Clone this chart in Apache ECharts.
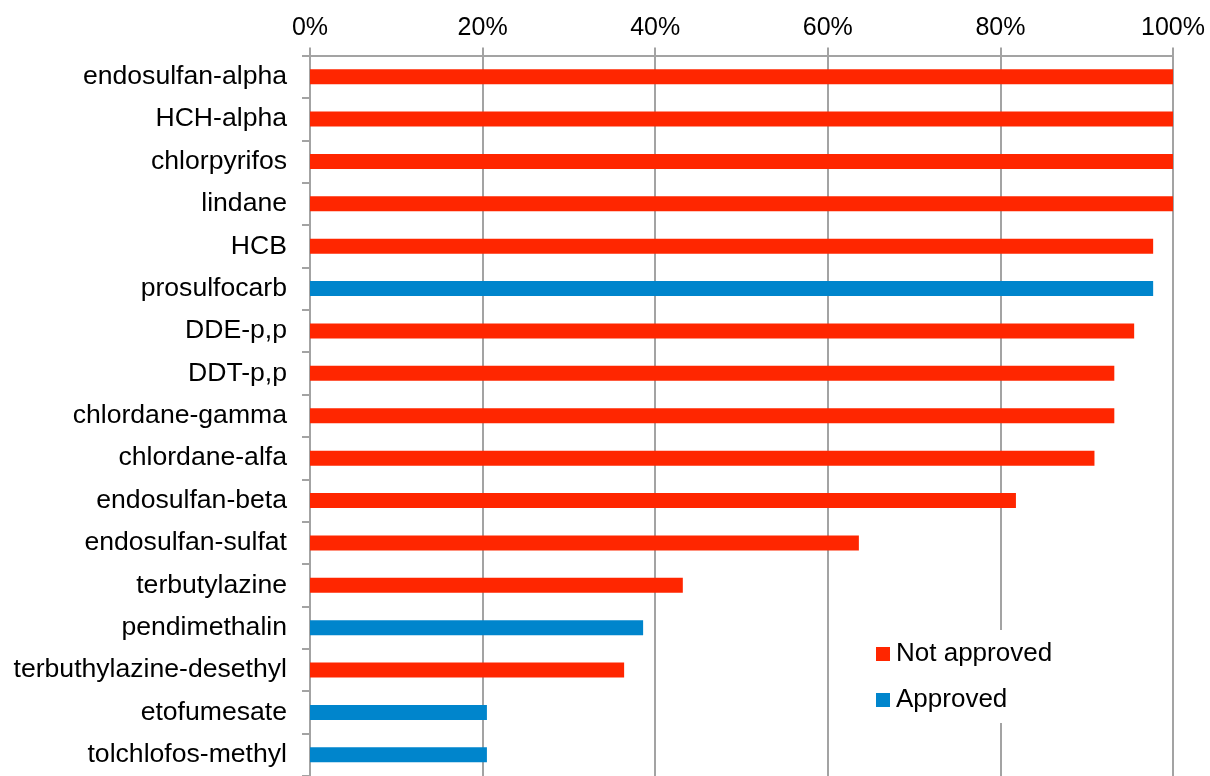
<!DOCTYPE html>
<html>
<head>
<meta charset="utf-8">
<title>Pesticide detections</title>
<script src="https://cdn.jsdelivr.net/npm/echarts@6/dist/echarts.min.js"></script>
<style>
  html, body { margin: 0; padding: 0; background: #ffffff; }
  #chart { width: 1210px; height: 776px; }
</style>
</head>
<body>
<div id="chart"></div>
<script>
// Compounds, top to bottom
const categories = [
  'endosulfan-alpha', 'HCH-alpha', 'chlorpyrifos', 'lindane', 'HCB',
  'prosulfocarb', 'DDE-p,p', 'DDT-p,p', 'chlordane-gamma', 'chlordane-alfa',
  'endosulfan-beta', 'endosulfan-sulfat', 'terbutylazine', 'pendimethalin',
  'terbuthylazine-desethyl', 'etofumesate', 'tolchlofos-methyl'
];

// Share of samples with the compound (%)
const shares = [
  100, 100, 100, 100, 97.7,
  97.7, 95.5, 93.2, 93.2, 90.9,
  81.8, 63.6, 43.2, 38.6,
  36.4, 20.5, 20.5
];

// Approval status of each compound
const approvedStatus = [
  false, false, false, false, false,
  true, false, false, false, false,
  false, false, false, true,
  false, true, true
];

const seriesNames = ['Not approved', 'Approved'];
const seriesColors = ['#ff2600', '#0085cc'];

const xTicks = [0, 20, 40, 60, 80, 100];

const notApprovedData = shares.map((v, i) => approvedStatus[i] ? '-' : v);
const approvedData = shares.map((v, i) => approvedStatus[i] ? v : '-');

const gray = '#a3a3a3';
const font = '"Liberation Sans", Arial, sans-serif';

const chart = echarts.init(document.getElementById('chart'), null, { renderer: 'canvas' });

chart.setOption({
  animation: false,
  backgroundColor: '#ffffff',
  textStyle: { fontFamily: font, color: '#000' },
  grid: { left: 310, right: 37, top: 55.5, bottom: -5, containLabel: false },
  legend: {
    orient: 'vertical',
    left: 866,
    top: 630,
    padding: [11, 10, 10, 10],
    backgroundColor: '#ffffff',
    itemWidth: 14,
    itemHeight: 14,
    itemGap: 20,
    icon: 'rect',
    data: seriesNames,
    textStyle: { fontSize: 26, color: '#000', fontFamily: font, padding: [2, 0, 0, 1] }
  },
  xAxis: {
    type: 'value',
    position: 'top',
    min: xTicks[0],
    max: xTicks[xTicks.length - 1],
    interval: 20,
    axisLine: { show: true, lineStyle: { color: gray, width: 2 } },
    axisTick: { show: true, length: 8, lineStyle: { color: gray, width: 2 } },
    axisLabel: {
      fontSize: 25, color: '#000', fontFamily: font, margin: 15,
      formatter: '{value}%'
    },
    splitLine: { show: true, lineStyle: { color: gray, width: 2 } }
  },
  yAxis: {
    type: 'category',
    inverse: true,
    data: categories,
    axisLine: { show: true, lineStyle: { color: gray, width: 2 } },
    axisTick: { show: true, length: 8, lineStyle: { color: gray, width: 2 } },
    axisLabel: { fontSize: 26.6, color: '#000', fontFamily: font, margin: 23 }
  },
  series: [
    {
      name: seriesNames[0],
      type: 'bar',
      stack: 'share',
      barWidth: 15,
      itemStyle: { color: seriesColors[0] },
      data: notApprovedData
    },
    {
      name: seriesNames[1],
      type: 'bar',
      stack: 'share',
      barWidth: 15,
      itemStyle: { color: seriesColors[1] },
      data: approvedData
    }
  ]
});
</script>
</body>
</html>
